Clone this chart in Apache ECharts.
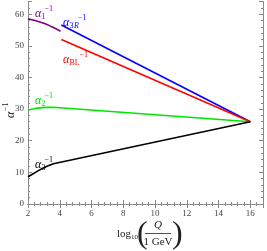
<!DOCTYPE html>
<html><head><meta charset="utf-8">
<script src="https://cdn.jsdelivr.net/npm/echarts@6/dist/echarts.min.js"></script>
<style>html,body{margin:0;padding:0;background:#fff}#c{width:267px;height:251px}</style>
</head><body><div id="c"></div>
<script>
// Data
var alpha1 = [[2,58.5],[2.5,57.9],[3,57.1],[3.5,56.0],[4.05,54.6]];
var alpha3R = [[4.1,56.6],[16,26.0]];
var alphaBL = [[4.1,52.0],[16,26.0]];
var alpha2 = [[2,29.7],[2.3,30.05],[2.6,30.3],[2.9,30.45],[3.2,30.55],[3.6,30.6],[16,26.0]];
var alpha3 = [[2,8.6],[2.3,9.5],[2.6,10.4],[2.9,11.2],[3.2,11.9],[3.6,12.7],[16,26.0]];
var xTicks = [2,4,6,8,10,12,14,16];
var yTicks = [0,10,20,30,40,50,60];

var FONT = '"Liberation Serif", "DejaVu Serif", serif';
var chart = echarts.init(document.getElementById('c'), null, {renderer:'canvas'});

function axisCommon(show){
  return {
    axisLine:{show:true, lineStyle:{color:'#8a8a8a', width:1}},
    axisTick:{show:true, inside:true, length:4, lineStyle:{color:'#8a8a8a'}},
    minorTick:{show:true, splitNumber:5, length:2, lineStyle:{color:'#8a8a8a'}},
    splitLine:{show:false},
    axisLabel:{show:show, fontFamily:FONT, fontSize:9, color:'#444'}
  };
}
var xMain = Object.assign({type:'value', min:2, max:16.8, interval:2, position:'bottom'}, axisCommon(true));
xMain.axisLabel.margin = 5;
xMain.axisLabel.formatter = function(v){ return xTicks.indexOf(v)>=0 ? String(v) : ''; };
xMain.axisLabel.showMaxLabel = false;
var xTop = Object.assign({type:'value', min:2, max:16.8, interval:2, position:'top'}, axisCommon(false));
var yMain = Object.assign({type:'value', min:0, max:64, interval:10, position:'left'}, axisCommon(true));
yMain.axisLabel.margin = 4;
yMain.axisLabel.formatter = function(v){ return yTicks.indexOf(v)>=0 ? String(v) : ''; };
yMain.axisLabel.showMaxLabel = false;
var yRight = Object.assign({type:'value', min:0, max:64, interval:10, position:'right'}, axisCommon(false));

function ser(data, color, smooth){
  return {type:'line', data:data, showSymbol:false, smooth:smooth, xAxisIndex:0, yAxisIndex:0,
    lineStyle:{color:color, width:1.6}, itemStyle:{color:color}, animation:false, silent:true};
}

function txt(x, y, s, size, color, italic){
  return {type:'text', x:x, y:y, style:{text:s, font:(italic?'italic ':'')+size+'px '+FONT, fill:color, verticalAlign:'middle', align:'left'}};
}
// label: α main with subscript and superscript
function lab(x, y, sub, supX, color){
  var els = [txt(x, y, 'α', 12, color, true)];
  var sx = x + 6.5;
  sub.forEach(function(p){ els.push(txt(sx, y+3, p[0], 8, color, p[1])); sx += p[2]; });
  els.push(txt(supX, y-5, '−1', 8, color, false));
  return els;
}

var graphics = [];
graphics = graphics.concat(lab(35,14,[['1',false,4]],44.5,'#800080'));
graphics = graphics.concat(lab(63,23,[['3',false,4.5],['R',true,5]],78,'#0000ff'));
graphics = graphics.concat(lab(63,60,[['BL',false,9]],79.5,'#ff0000'));
graphics = graphics.concat(lab(35,101,[['2',false,4]],44.5,'#00e000'));
graphics = graphics.concat(lab(35,165,[['3',false,4]],44.5,'#000000'));

// y axis title
graphics.push({type:'group', x:11, y:118, rotation:Math.PI/2, children:[
  txt(0, 0, 'α', 12, '#222', true),
  txt(7, -5, '−1', 8, '#222', false)
]});
// x axis title
graphics.push(txt(117, 234, 'log', 11, '#222', false));
graphics.push(txt(131, 237, '10', 7, '#222', false));
graphics.push(txt(137, 235, '(', 32, '#222', false));
graphics.push(txt(172, 235, ')', 32, '#222', false));
graphics.push({type:'text', x:158, y:225, style:{text:'Q', font:'italic 11px '+FONT, fill:'#222', align:'center', verticalAlign:'middle'}});
graphics.push({type:'line', shape:{x1:145, y1:233.5, x2:171, y2:233.5}, style:{stroke:'#222', lineWidth:0.8}});
graphics.push({type:'text', x:158, y:242, style:{text:'1 GeV', font:'11px '+FONT, fill:'#222', align:'center', verticalAlign:'middle'}});

chart.setOption({
  animation:false,
  backgroundColor:'#fff',
  grid:{left:28, right:4, top:1.5, bottom:47, containLabel:false},
  xAxis:[xMain, xTop],
  yAxis:[yMain, yRight],
  series:[
    ser(alpha1,'#800080',true),
    ser(alpha3R,'#0000ff',false),
    ser(alphaBL,'#ff0000',false),
    ser(alpha2,'#00e600',false),
    ser(alpha3,'#000000',false)
  ],
  graphic:graphics
});
</script>
</body></html>
